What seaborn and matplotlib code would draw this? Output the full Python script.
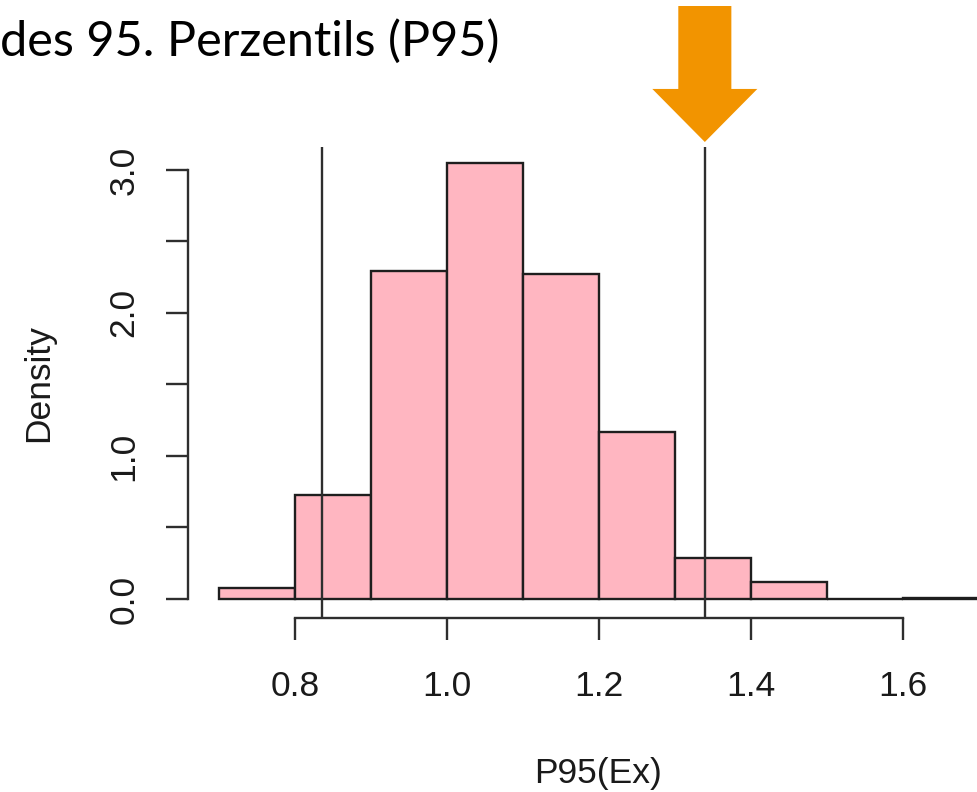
import matplotlib
matplotlib.use("Agg")
import matplotlib.pyplot as plt
import seaborn as sns
import numpy as np
import pandas as pd

# ---- data ----
bin_edges = [0.7, 0.8, 0.9, 1.0, 1.1, 1.2, 1.3, 1.4, 1.5, 1.6, 1.7]
density = [0.077, 0.73, 2.29, 3.05, 2.27, 1.17, 0.287, 0.12, 0.0, 0.007]
vlines = [0.8355, 1.3395]
x_ticks = [0.8, 1.0, 1.2, 1.4, 1.6]
x_ticklabels = ["0.8", "1.0", "1.2", "1.4", "1.6"]
y_ticks = [0.0, 0.5, 1.0, 1.5, 2.0, 2.5, 3.0]
y_ticklabels = ["0.0", "", "1.0", "", "2.0", "", "3.0"]
title_text = "des 95. Perzentils (P95)"
x_label = "P95(Ex)"
y_label = "Density"

centers = [(a + b) / 2 for a, b in zip(bin_edges[:-1], bin_edges[1:])]
df = pd.DataFrame({"x": centers, "w": density})

sns.set_style("ticks")
plt.rcParams["font.family"] = ["Liberation Sans", "DejaVu Sans"]

W, H = 977, 792
fig = plt.figure(figsize=(W / 100, H / 100), dpi=100)
# axes in pixel geometry: left 188, right 1009, top 147, bottom 618
ax = fig.add_axes([188 / W, (H - 618) / H, (1009 - 188) / W, (618 - 147) / H])

sns.histplot(data=df, x="x", weights="w", bins=bin_edges, stat="count",
             color="#FFB6C1", edgecolor="#1e1e1e", linewidth=1.7, alpha=1.0,
             ax=ax)

for v in vlines:
    ax.axvline(v, color="#2e2e2e", linewidth=1.7, zorder=5)

ax.set_xlim(0.659, 1.74)
ax.set_ylim(-0.133, 3.16)

for s in ["top", "right"]:
    ax.spines[s].set_visible(False)
ax.spines["left"].set_bounds(0, 3)
ax.spines["bottom"].set_bounds(0.8, 1.6)
for s in ["left", "bottom"]:
    ax.spines[s].set_color("#2e2e2e")
    ax.spines[s].set_linewidth(1.7)

ax.set_xticks(x_ticks)
ax.set_xticklabels(x_ticklabels)
ax.set_yticks(y_ticks)
ax.set_yticklabels(y_ticklabels, rotation=90, va="center")
ax.tick_params(axis="both", which="major", bottom=True, left=True,
               direction="out", length=15.8, width=1.7,
               color="#2e2e2e", labelsize=25.5, labelcolor="#1a1a1a", pad=18.5)
ax.tick_params(axis="x", pad=22)

ax.set_xlabel(x_label, fontsize=25.5, color="#1a1a1a", va="center")
ax.xaxis.set_label_coords(0.5, (618 - 774) / (618 - 147))
ax.set_ylabel(y_label, fontsize=25.5, color="#1a1a1a", va="center")
ax.yaxis.set_label_coords((39 - 188) / (1009 - 188), 0.5)

# title fragment at top left
fig.text(0.0, (H - 56) / H, title_text, fontsize=35, family=["Lato", "DejaVu Sans"],
         color="black", ha="left", va="baseline")

# orange arrow pointing at the upper vertical line
ax.annotate("", xy=(vlines[1], H - 142), xycoords=("data", "figure pixels"),
            xytext=(vlines[1], H - 6), textcoords=("data", "figure pixels"),
            arrowprops=dict(arrowstyle="simple,head_length=38.2,head_width=75.6,tail_width=38.2",
                            mutation_scale=1, color="#F29400", shrinkA=0, shrinkB=0,
                            linewidth=0),
            annotation_clip=False)

fig.savefig("out.png", dpi=100)
